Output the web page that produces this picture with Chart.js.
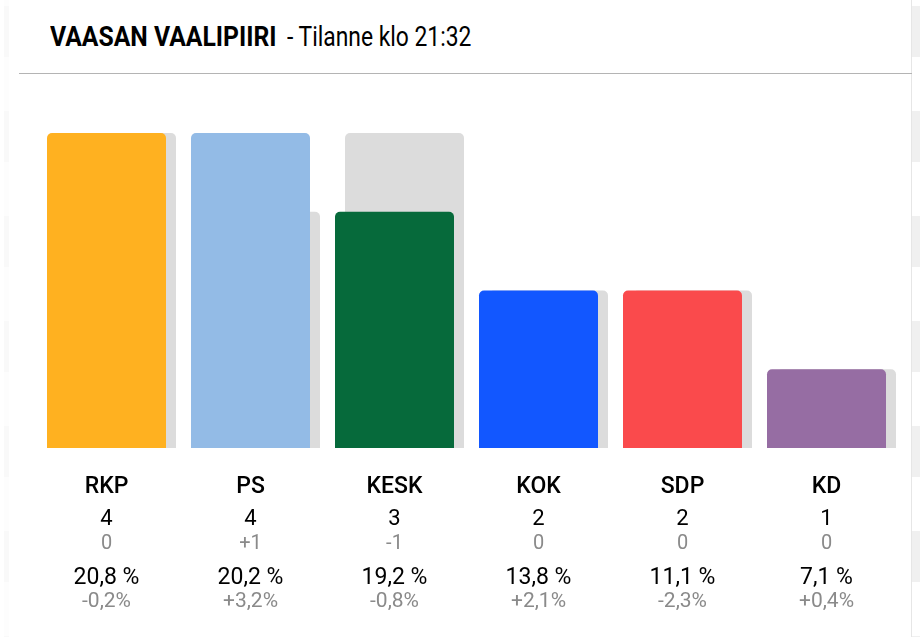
<!DOCTYPE html>
<html lang="fi">
<head>
<meta charset="utf-8">
<title>Vaasan vaalipiiri</title>
<script src="https://cdn.jsdelivr.net/npm/chart.js@4"></script>
<style>
    html, body { margin: 0; padding: 0; background: #fff; }
    body { width: 920px; height: 637px; position: relative; overflow: hidden; font-family: Roboto, sans-serif; color: #000; }
    .otsikko { position: absolute; top: 20px; font-size: 27px; line-height: 34px; white-space: nowrap; transform-origin: left center; }
    #alue { left: 50px; font-weight: 700; transform: scaleX(0.916); }
    #tilanne { left: 287px; transform: scaleX(0.846); }
    #viiva { position: absolute; left: 19px; right: 8px; top: 73px; height: 1px; background: #b4b4b4; }
    #kaavio { position: absolute; left: 0; top: 0; width: 920px; height: 637px; }
    /* sivun taustan raidat reunoilla */
    #oikea { position: absolute; left: 911px; top: 0; width: 9px; height: 637px; border-left: 1px solid #e6e6e6; box-sizing: border-box;
             background: linear-gradient(#f0f0f0 51px, #fff 51px) 0 6px / 100% 105px; }
    #vasen { position: absolute; left: 4px; top: 0; width: 5px; height: 637px;
             background: linear-gradient(#f9f9f9 51px, #fdfdfd 51px) 0 6px / 100% 105px; }
</style>
</head>
<body>
<div id="vasen"></div>
<div id="oikea"></div>
<div class="otsikko" id="alue">VAASAN VAALIPIIRI</div>
<div class="otsikko" id="tilanne">- Tilanne klo 21:32</div>
<div id="viiva"></div>
<div id="kaavio"><canvas id="paikat"></canvas></div>
<script>
// Tulokset puolueittain
const puolueet = ['RKP', 'PS', 'KESK', 'KOK', 'SDP', 'KD'];
const paikat = [4, 4, 3, 2, 2, 1];
const edellisetPaikat = [4, 3, 4, 2, 2, 1];
const paikkaMuutos = ['0', '+1', '-1', '0', '0', '0'];
const osuudet = ['20,8 %', '20,2 %', '19,2 %', '13,8 %', '11,1 %', '7,1 %'];
const osuusMuutos = ['-0,2%', '+3,2%', '-0,8%', '+2,1%', '-2,3%', '+0,4%'];
const varit = ['#FFB120', '#93BBE6', '#066A3B', '#1257FF', '#FA4A4C', '#966DA3'];

const MUSTA = '#000';
const HARMAA = '#8a8a8a';

// Yksi tekstirivi = oma kategoria-akseli palkkien alla
function tekstiAkseli(rivit, paino, korkeus, koko, vari, paksuus, rako) {
    return {
        type: 'category',
        position: 'bottom',
        labels: rivit,
        offset: true,
        weight: paino,
        grid: { display: false, drawTicks: false },
        border: { display: false },
        ticks: {
            autoSkip: false,
            maxRotation: 0,
            padding: rako,
            labelOffset: -5,
            color: vari,
            font: { family: 'Roboto', size: koko, weight: paksuus }
        },
        // akseli piirtää tekstin vain omalle alueelleen
        afterFit: function (akseli) { akseli.height = korkeus; }
    };
}

const kulmat = { topLeft: 5, topRight: 5, bottomLeft: 0, bottomRight: 0 };

new Chart(document.getElementById('paikat').getContext('2d'), {
    type: 'bar',
    data: {
        labels: puolueet,
        datasets: [{
            label: 'Paikat',
            data: paikat,
            backgroundColor: varit,
            borderRadius: kulmat,
            borderSkipped: false
        }, {
            label: 'Edelliset paikat',
            data: edellisetPaikat,
            backgroundColor: '#DCDCDC',
            borderRadius: kulmat,
            borderSkipped: false
        }]
    },
    options: {
        responsive: true,
        maintainAspectRatio: false,
        animation: false,
        // palkit menevät limittäin: 10 px siirtymä, 119 px leveys
        datasets: { bar: { categoryPercentage: 20 / 144, barPercentage: 11.9 } },
        layout: { padding: { left: 39.5, right: 16.5, top: 133, bottom: 0 } },
        plugins: { legend: { display: false }, tooltip: { enabled: false } },
        scales: {
            y: { display: false, min: 0, max: 4 },
            x: tekstiAkseli(puolueet, 1, 55, 23, MUSTA, 500, 25),
            paikkaRivi: tekstiAkseli(paikat, 2, 28, 22, MUSTA, 400, 3),
            muutosRivi: tekstiAkseli(paikkaMuutos, 3, 32, 20, HARMAA, 400, 1),
            osuusRivi: tekstiAkseli(osuudet, 4, 26, 23, MUSTA, 400, 1),
            osuusMuutosRivi: tekstiAkseli(osuusMuutos, 5, 48, 21, HARMAA, 400, 0)
        }
    }
});
</script>
</body>
</html>
